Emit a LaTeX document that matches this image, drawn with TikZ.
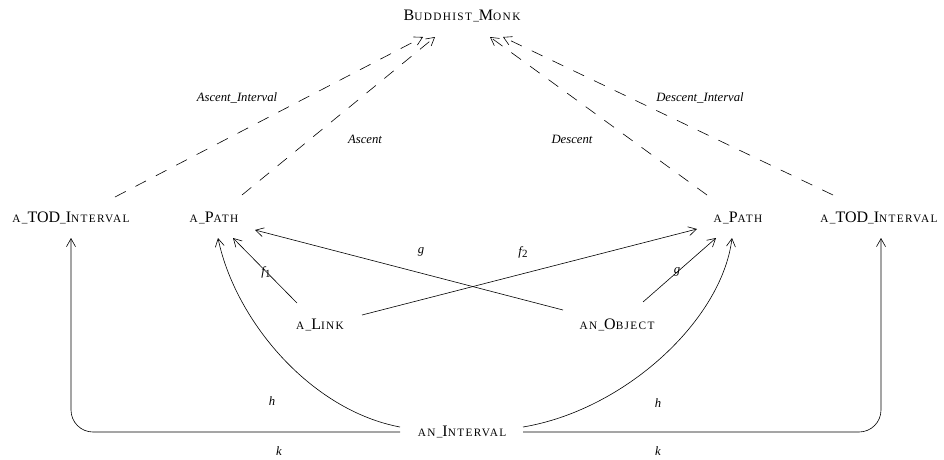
\documentclass[tikz,border=0pt]{standalone}
\usepackage{fontspec}
\setmainfont{Liberation Serif}
\newfontfamily\scfont[LetterSpace=12]{Liberation Serif}
\usetikzlibrary{arrows.meta}
\newcommand\Cap[1]{{\rmfamily\fontsize{16}{16}\selectfont #1}}
\begin{document}
\begin{tikzpicture}[x=1pt,y=-1pt,
  obj/.style={inner sep=0pt,font=\scfont\fontsize{11.3}{12}\selectfont},
  lab/.style={inner sep=0pt,font=\fontsize{12.7}{14}\selectfont\itshape},
  arr/.style={line width=0.6pt,-{Straight Barb[length=8pt,width=9pt]}},
  darr/.style={arr,dash pattern=on 12pt off 11pt}]
\useasboundingbox (0,0) rectangle (944,459);
\node[obj] (bm) at (462,16) {\Cap{B}UDDHIST\_\Cap{M}ONK};
\node[obj] (tl) at (71,218) {A\_\Cap{TOD}\_\Cap{I}NTERVAL};
\node[obj] (pl) at (214,218) {A\_\Cap{P}ATH};
\node[obj] (pr) at (738,218) {A\_\Cap{P}ATH};
\node[obj] (tr) at (879,218) {A\_\Cap{TOD}\_\Cap{I}NTERVAL};
\node[obj] (lk) at (320,325) {A\_\Cap{L}INK};
\node[obj] (ob) at (617,325) {AN\_\Cap{O}BJECT};
\node[obj] (ai) at (462,432) {AN\_\Cap{I}NTERVAL};
% labels
\node[lab] (l1) at (237,98) {Ascent\_Interval};
\node[lab] (l2) at (365,139) {Ascent};
\node[lab] (l3) at (572,139) {Descent};
\node[lab] (l4) at (700,98) {Descent\_Interval};
\node[lab] (l5) at (266,272) {f\kern0.3pt\raisebox{-2.5pt}{\upshape\fontsize{11}{11}\selectfont 1}};
\node[lab] (l6) at (421,252) {g};
\node[lab] (l7) at (523,252) {f\kern0.3pt\raisebox{-2.5pt}{\upshape\fontsize{11}{11}\selectfont 2}};
\node[lab] (l8) at (677,272) {g};
\node[lab] (l9) at (272,401) {h};
\node[lab] (l10) at (658,403) {h};
\node[lab] (l11) at (279,451) {k};
\node[lab] (l12) at (658,451) {k};
% dashed
\draw[darr] ([shift={(44,-21)}]tl.center) -- ([shift={(-39,21)}]bm.center);
\draw[darr] ([shift={(28,-23)}]pl.center) -- ([shift={(-27,21)}]bm.center);
\draw[darr] ([shift={(-31,-23)}]pr.center) -- ([shift={(28,21)}]bm.center);
\draw[darr] ([shift={(-46,-23)}]tr.center) -- ([shift={(41,21)}]bm.center);
% solid
\draw[arr] ([shift={(-23,-22)}]lk.center) -- ([shift={(19,20)}]pl.center);
\draw[arr] ([shift={(-54,-15)}]ob.center) -- ([shift={(41,12)}]pl.center);
\draw[arr] ([shift={(42,-10)}]lk.center) -- ([shift={(-41,11)}]pr.center);
\draw[arr] ([shift={(26,-23)}]ob.center) -- ([shift={(-22,20)}]pr.center);
\draw[arr] ([shift={(-62,-5)}]ai.center) .. controls (310,410) and (235,320) .. ([shift={(4,20)}]pl.center);
\draw[arr] ([shift={(61,-5)}]ai.center) .. controls (625,410) and (722,320) .. ([shift={(-6,20)}]pr.center);
\draw[arr,rounded corners=22pt] ([shift={(-62,0)}]ai.center) -| ([shift={(0,20)}]tl.center);
\draw[arr,rounded corners=22pt] ([shift={(61,0)}]ai.center) -| ([shift={(2,20)}]tr.center);
\end{tikzpicture}
\end{document}
